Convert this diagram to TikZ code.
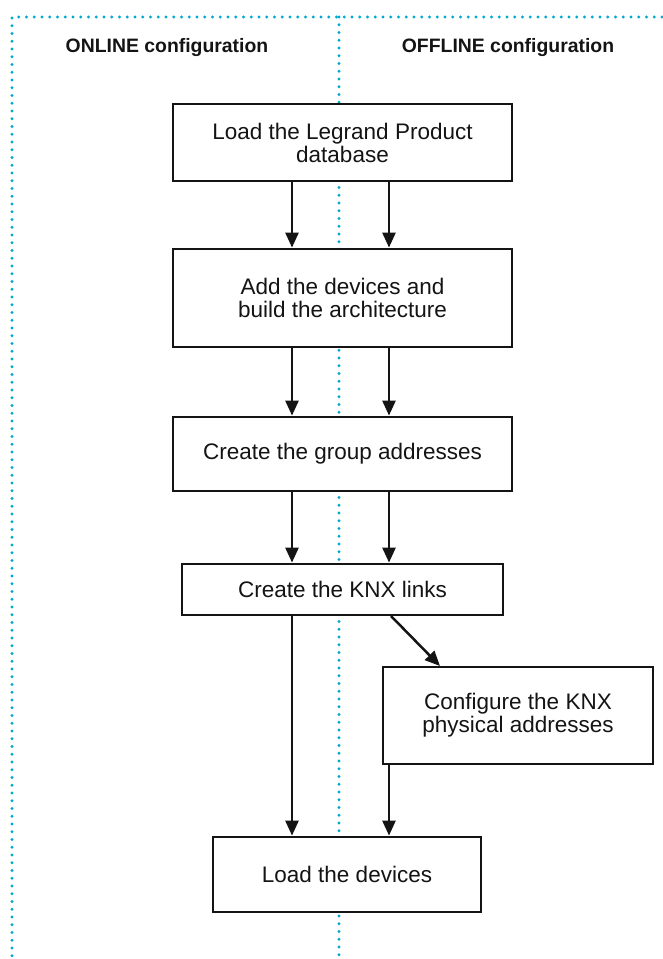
\documentclass[tikz,border=0pt]{standalone}
\usepackage{fontspec}
\setmainfont{Liberation Sans}
\usetikzlibrary{arrows.meta}
\definecolor{sep}{RGB}{0,169,206}
\definecolor{ink}{RGB}{20,20,20}
\tikzset{
  sepline/.style={draw=sep, line width=3.2pt, line cap=round, dash pattern=on 0pt off 7.75pt},
  stepbox/.style={draw=ink, fill=white, line width=2.8pt, inner sep=0pt, align=center, text=ink,
    font=\fontsize{22.5pt}{23pt}\selectfont},
  arr/.style={draw=ink, line width=2.5pt, -{Triangle[length=15pt,width=13pt]}},
  head/.style={anchor=base, text=ink, font=\fontsize{19.4pt}{23pt}\selectfont\bfseries}
}
\begin{document}
\begin{tikzpicture}[x=1pt,y=-1pt]
\useasboundingbox (0,0) rectangle (662,959);
% separators
\coordinate (tl) at (12,17);
\coordinate (tr) at (662,17);
\coordinate (bl) at (12,959);
\coordinate (tm) at (339,17);
\coordinate (bm) at (339,959);
\draw[sepline] (tr) -- (tl) -- (bl);
\draw[sepline] (tm) -- (bm);
% headings
\node[head] (h1) at (167,52) {ONLINE configuration};
\node[head] (h2) at (508,52) {OFFLINE configuration};
% boxes
\node[stepbox, minimum width=339pt, minimum height=77pt] (b1) at (342.5,142.5) {Load the Legrand Product\\database};
\node[stepbox, minimum width=339pt, minimum height=98pt] (b2) at (342.5,298) {Add the devices and\\build the architecture};
\node[stepbox, minimum width=339pt, minimum height=74pt] (b3) at (342.5,454) {Create the group addresses};
\node[stepbox, minimum width=321pt, minimum height=51pt] (b4) at (342.5,589.5) {Create the KNX links};
\node[stepbox, minimum width=270pt, minimum height=97pt] (b5) at (518,715.5) {Configure the KNX\\physical addresses};
\node[stepbox, minimum width=268pt, minimum height=75pt] (b6) at (347,874.5) {Load the devices};
% arrows
\coordinate (xa) at (292,0);
\coordinate (xb) at (389,0);
\draw[arr] (b1.south -| xa) -- (b2.north -| xa);
\draw[arr] (b1.south -| xb) -- (b2.north -| xb);
\draw[arr] (b2.south -| xa) -- (b3.north -| xa);
\draw[arr] (b2.south -| xb) -- (b3.north -| xb);
\draw[arr] (b3.south -| xa) -- (b4.north -| xa);
\draw[arr] (b3.south -| xb) -- (b4.north -| xb);
\draw[arr] (b4.south -| xa) -- (b6.north -| xa);
\coordinate (d1) at (391,616);
\coordinate (d2) at (440,666);
\draw[arr] (d1) -- (d2);
\draw[arr] (b5.south -| xb) -- (b6.north -| xb);
\end{tikzpicture}
\end{document}
